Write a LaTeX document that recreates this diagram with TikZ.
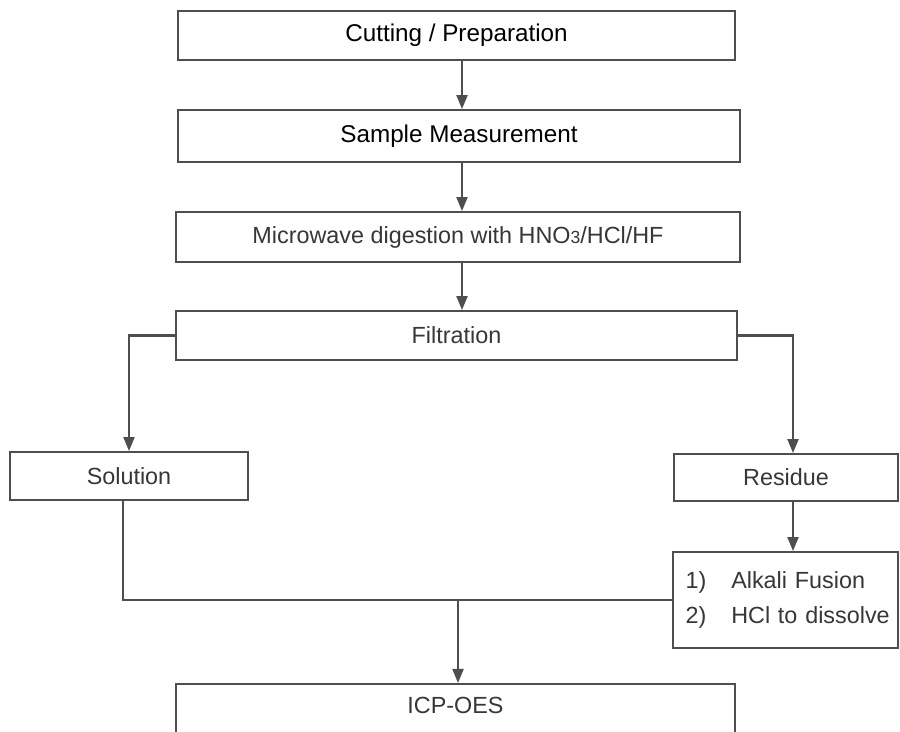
\documentclass[tikz,border=0pt]{standalone}
\usepackage{fontspec}
\setmainfont{Liberation Sans}
\usetikzlibrary{arrows.meta}
\definecolor{lncol}{RGB}{78,78,78}
\definecolor{txtcol}{RGB}{55,55,55}
\tikzset{
  box/.style={rectangle, draw=lncol, line width=1.1pt, fill=white, text=txtcol,
              font=\fontsize{13.3}{16}\selectfont, inner sep=0pt},
  % top steps are printed darker
  dark/.style={text=black, font=\fontsize{13.8}{16}\selectfont},
  ar/.style={-{Triangle[length=2.8mm,width=2.2mm]}, line width=1.2pt, draw=lncol},
  con/.style={line width=1.2pt, draw=lncol}
}
\begin{document}
\begin{tikzpicture}[x=0.02cm,y=-0.02cm]
  \clip (0,0) rectangle (900,732);
  \fill[white] (0,0) rectangle (900,732);

  % ---- main column ----
  \node[box, dark, minimum width=11.14cm, minimum height=0.98cm] (cut)  at (456.5,35.5) {Cutting / Preparation};
  \node[box, dark, minimum width=11.24cm, minimum height=1.04cm] (meas) at (459,136)    {Sample Measurement};
  \node[box, minimum width=11.28cm, minimum height=1.0cm]  (mw)   at (458,237)   {Microwave digestion with HNO{\fontsize{10}{12}\selectfont 3}/HCl/HF};
  \node[box, minimum width=11.22cm, minimum height=0.98cm] (filt) at (456.5,335.5) {Filtration};

  \coordinate (spine) at (462,0);
  \coordinate (rcol)  at (793,0);
  \coordinate (lcol)  at (123,0);
  \coordinate (mcol)  at (458,0);
  \draw[ar] (cut.south -| spine)  -- (meas.north -| spine);
  \draw[ar] (meas.south -| spine) -- (mw.north -| spine);
  \draw[ar] (mw.south -| spine)   -- (filt.north -| spine);

  % ---- branches ----
  \node[box, minimum width=4.76cm, minimum height=0.96cm] (sol) at (129,476)   {Solution};
  \node[box, minimum width=4.48cm, minimum height=0.94cm] (res) at (786,477.5) {Residue};
  \node[box, minimum width=4.5cm, minimum height=1.92cm, text width=4.0cm, align=left] (alk) at (785.5,600)
    {\begin{tabular}{@{}l@{\hspace{0.5cm}}l@{}}1) & Alkali Fusion\\[0.14cm] 2) & HCl to dissolve\end{tabular}};

  \draw[ar] (filt.west) -| (sol.north);
  \draw[ar] (filt.east) -| (res.north -| rcol);
  \draw[ar] (res.south -| rcol) -- (alk.north -| rcol);

  % ---- merge to ICP ----
  \node[box, anchor=north, minimum width=11.18cm, inner ysep=0.1cm, text height=0.5cm, text depth=1.2cm] (icp) at (455.5,683) {ICP-OES};
  \draw[con] (sol.south -| lcol) |- (alk.west);
  \draw[ar] (alk.west -| mcol) -- (icp.north -| mcol);
\end{tikzpicture}
\end{document}
